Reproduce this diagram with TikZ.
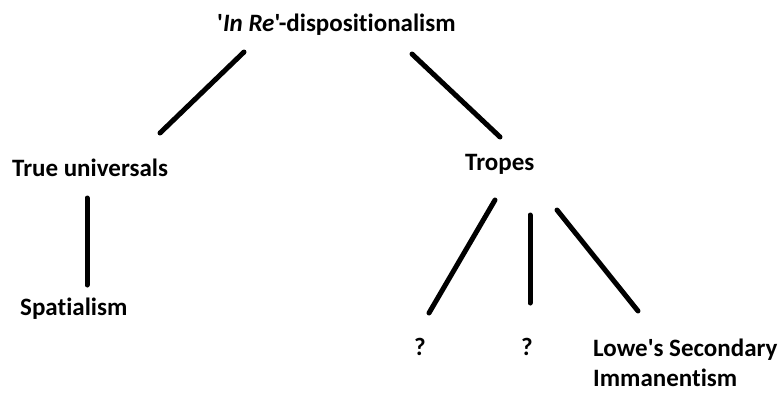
\documentclass[tikz,border=0pt]{standalone}
\usepackage{fontspec}
\newfontfamily\lblfont[Ligatures={NoCommon,NoRequired,NoContextual}]{Carlito}
\begin{document}
\begin{tikzpicture}[x=1pt,y=-1pt,
  lbl/.style={font=\lblfont\bfseries\fontsize{25}{30}\selectfont, inner sep=0pt, anchor=base west, align=left},
  link/.style={line width=5pt, line cap=round}]
\useasboundingbox (0,0) rectangle (781,392);
\node[lbl] (root) at (217,31) {'\textit{In Re}'-dispositionalism};
\node[lbl] (tu) at (12,176) {True universals};
\node[lbl] (tr) at (465,170) {Tropes};
\node[lbl] (sp) at (20,315) {Spatialism};
\node[lbl] (q1) at (414,355) {?};
\node[lbl] (q2) at (521,355) {?};
\node[lbl] (lowe) at (593,386) {Lowe's Secondary\\Immanentism};
% connector end points
\coordinate (rootL) at (244,52);
\coordinate (tuT) at (160,133);
\coordinate (rootR) at (412,54);
\coordinate (trT) at (500,137);
\coordinate (tuB) at (87,198);
\coordinate (spT) at (87,285);
\coordinate (trB1) at (495,200);
\coordinate (q1T) at (429,313);
\coordinate (trB2) at (530,215);
\coordinate (q2T) at (530,303);
\coordinate (trB3) at (557,210);
\coordinate (loweT) at (638,311);
\draw[link] (rootL) -- (tuT);
\draw[link] (rootR) -- (trT);
\draw[link] (tuB) -- (spT);
\draw[link] (trB1) -- (q1T);
\draw[link] (trB2) -- (q2T);
\draw[link] (trB3) -- (loweT);
\end{tikzpicture}
\end{document}
